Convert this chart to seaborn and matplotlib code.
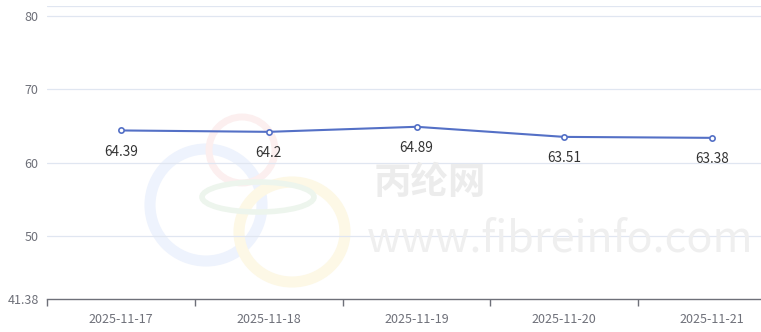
import matplotlib
matplotlib.use("Agg")
import matplotlib.pyplot as plt
import seaborn as sns
import pandas as pd
from matplotlib.patches import Ellipse

dates = ["2025-11-17", "2025-11-18", "2025-11-19", "2025-11-20", "2025-11-21"]
values = [64.39, 64.2, 64.89, 63.51, 63.38]
value_labels = ["64.39", "64.2", "64.89", "63.51", "63.38"]
y_ticks = [41.38, 50, 60, 70, 80]
y_min, y_max = 41.38, 81.38

df = pd.DataFrame({"date": dates, "value": values})

sns.set_theme(style="white")
plt.rcParams['font.family'] = ['Microsoft YaHei', 'Noto Sans CJK SC', 'DejaVu Sans']

W, H = 761, 332
fig = plt.figure(figsize=(W / 100, H / 100), dpi=100)

def fx(px):
    return px / W

def fy(py):
    return 1 - py / H

# watermark rings (figure pixel coordinates)
def ring(cx, cy, w, h, color, lw):
    e = Ellipse((fx(cx), fy(cy)), w / W, h / H, fill=False, edgecolor=color,
                linewidth=lw, transform=fig.transFigure, zorder=0)
    fig.add_artist(e)

ring(206, 205, 112, 112, "#eef3fd", 8)
ring(242, 150, 66, 66, "#fcefef", 5)
ring(292, 232, 106, 100, "#fdf8e6", 8)
ring(258, 197, 112, 30, "#edf5ed", 4)
fig.text(fx(430), fy(182), "丙纶网", fontsize=27, color="#ececec", ha="center",
         va="center", fontweight="bold", zorder=0)
fig.text(fx(560), fy(240), "www.fibreinfo.com", fontsize=31, color="#efefef",
         ha="center", va="center", zorder=0)

left, right, top, bottom = 47, 786, 6, 299
ax = fig.add_axes([fx(left), fy(bottom), (right - left) / W, (bottom - top) / H])
ax.patch.set_alpha(0)

sns.lineplot(data=df, x="date", y="value", ax=ax, color="#5470c6", linewidth=1.5,
             marker="o", markersize=3.8, markerfacecolor="white",
             markeredgecolor="#5470c6", markeredgewidth=1.2, zorder=3)

for i, (v, t) in enumerate(zip(values, value_labels)):
    ax.annotate(t, (i, v), xytext=(0, -15.5), textcoords="offset points",
                ha="center", va="center", fontsize=9.8, color="#333333")

ax.set_xlim(-0.5, len(dates) - 0.5)
ax.set_ylim(y_min, y_max)
ax.set_yticks(y_ticks)
ax.set_yticklabels([f"{t:g}" for t in y_ticks])
for g in [50, 60, 70, 80, 81.38]:
    ax.axhline(g, color="#e0e6f1", linewidth=0.9, zorder=1)

ax.set_xticks(range(len(dates)))
ax.set_xticklabels(dates)
ax.set_xticks([i - 0.5 for i in range(len(dates) + 1)], minor=True)
ax.tick_params(axis="x", which="major", bottom=False, length=0, pad=10, labelsize=9, labelcolor="#6e7079")
ax.tick_params(axis="x", which="minor", bottom=True, length=5, color="#6e7079", width=1, direction="out")
ax.tick_params(axis="y", length=0, pad=6, labelsize=9, labelcolor="#6e7079")
ax.set_xlabel("")
ax.set_ylabel("")
for s in ["top", "right", "left"]:
    ax.spines[s].set_visible(False)
ax.spines["bottom"].set_color("#6e7079")
ax.spines["bottom"].set_linewidth(1)

fig.savefig("out.png", dpi=100)
